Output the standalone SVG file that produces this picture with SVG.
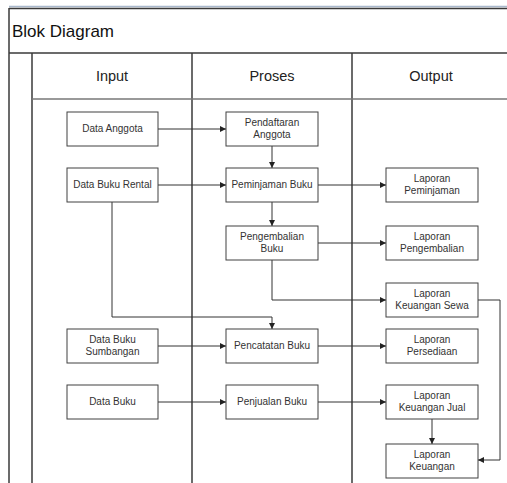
<svg xmlns="http://www.w3.org/2000/svg" width="507" height="483" viewBox="0 0 507 483">
<style>
.box{fill:#fff;stroke:#404040;stroke-width:1}
.t{font-family:"Liberation Sans",Arial,sans-serif;font-size:10px;fill:#333;text-anchor:middle}
.h{font-family:"Liberation Sans",Arial,sans-serif;font-size:14.5px;fill:#222;text-anchor:middle}
.c{fill:none;stroke:#333;stroke-width:1}
.f{stroke:#3a3a3a;stroke-width:1.5;fill:none}
</style>
<defs>
<marker id="a" markerUnits="userSpaceOnUse" markerWidth="8" markerHeight="8" refX="6" refY="3" orient="auto">
<path d="M0,0 L6,3 L0,6 Z" fill="#222"/>
</marker>
</defs>
<rect x="0" y="0" width="507" height="483" fill="#fff"/>
<g id="frame">
<line x1="9" y1="6.5" x2="507" y2="6.5" stroke="#a9b8cc" stroke-width="1.5"/>
<line class="f" x1="9" y1="8.5" x2="507" y2="8.5"/>
<line class="f" x1="9" y1="8" x2="9" y2="483"/>
<line class="f" x1="9" y1="53" x2="507" y2="53"/>
<line class="f" x1="32" y1="53" x2="32" y2="483"/>
<line class="f" x1="192" y1="53" x2="192" y2="483"/>
<line class="f" x1="352" y1="53" x2="352" y2="483"/>
<line x1="32" y1="99" x2="507" y2="99" stroke="#777" stroke-width="1.5"/>
<text x="12" y="37" font-family="'Liberation Sans',Arial,sans-serif" font-size="17" fill="#111">Blok Diagram</text>
<text class="h" x="112" y="81">Input</text>
<text class="h" x="272" y="81">Proses</text>
<text class="h" x="431" y="81">Output</text>
</g>
<g id="connectors">
<path class="c" d="M158,129 H226" marker-end="url(#a)"/>
<path class="c" d="M158,185 H226" marker-end="url(#a)"/>
<path class="c" d="M272,146 V168" marker-end="url(#a)"/>
<path class="c" d="M272,202 V226" marker-end="url(#a)"/>
<path class="c" d="M318,185 H386" marker-end="url(#a)"/>
<path class="c" d="M318,243 H386" marker-end="url(#a)"/>
<path class="c" d="M272,260 V300 H386" marker-end="url(#a)"/>
<path class="c" d="M112,202 V317 H272 V329" marker-end="url(#a)"/>
<path class="c" d="M158,346 H226" marker-end="url(#a)"/>
<path class="c" d="M318,346 H386" marker-end="url(#a)"/>
<path class="c" d="M158,402 H226" marker-end="url(#a)"/>
<path class="c" d="M318,402 H386" marker-end="url(#a)"/>
<path class="c" d="M432,419 V444" marker-end="url(#a)"/>
<path class="c" d="M478,300 H500 V460 H478" marker-end="url(#a)"/>
</g>
<g id="data-anggota"><rect class="box" x="67" y="112" width="91" height="34"/><text class="t" x="112.5" y="132">Data Anggota</text></g>
<g id="data-buku-rental"><rect class="box" x="67" y="168" width="91" height="34"/><text class="t" x="112.5" y="188">Data Buku Rental</text></g>
<g id="data-buku-sumbangan"><rect class="box" x="67" y="329" width="91" height="34"/><text class="t" x="112.5" y="342.5">Data Buku</text><text class="t" x="112.5" y="354.5">Sumbangan</text></g>
<g id="data-buku"><rect class="box" x="67" y="385" width="91" height="34"/><text class="t" x="112.5" y="405">Data Buku</text></g>
<g id="pendaftaran-anggota"><rect class="box" x="226" y="112" width="92" height="34"/><text class="t" x="272" y="125.5">Pendaftaran</text><text class="t" x="272" y="137.5">Anggota</text></g>
<g id="peminjaman-buku"><rect class="box" x="226" y="168" width="92" height="34"/><text class="t" x="272" y="188">Peminjaman Buku</text></g>
<g id="pengembalian-buku"><rect class="box" x="226" y="226" width="92" height="34"/><text class="t" x="272" y="239.5">Pengembalian</text><text class="t" x="272" y="251.5">Buku</text></g>
<g id="pencatatan-buku"><rect class="box" x="226" y="329" width="92" height="34"/><text class="t" x="272" y="349">Pencatatan Buku</text></g>
<g id="penjualan-buku"><rect class="box" x="226" y="385" width="92" height="34"/><text class="t" x="272" y="405">Penjualan Buku</text></g>
<g id="laporan-peminjaman"><rect class="box" x="386" y="168" width="92" height="34"/><text class="t" x="432" y="181.5">Laporan</text><text class="t" x="432" y="193.5">Peminjaman</text></g>
<g id="laporan-pengembalian"><rect class="box" x="386" y="226" width="92" height="34"/><text class="t" x="432" y="239.5">Laporan</text><text class="t" x="432" y="251.5">Pengembalian</text></g>
<g id="laporan-keuangan-sewa"><rect class="box" x="386" y="283" width="92" height="34"/><text class="t" x="432" y="296.5">Laporan</text><text class="t" x="432" y="308.5">Keuangan Sewa</text></g>
<g id="laporan-persediaan"><rect class="box" x="386" y="329" width="92" height="34"/><text class="t" x="432" y="342.5">Laporan</text><text class="t" x="432" y="354.5">Persediaan</text></g>
<g id="laporan-keuangan-jual"><rect class="box" x="386" y="385" width="92" height="34"/><text class="t" x="432" y="398.5">Laporan</text><text class="t" x="432" y="410.5">Keuangan Jual</text></g>
<g id="laporan-keuangan"><rect class="box" x="386" y="444" width="92" height="34"/><text class="t" x="432" y="457.5">Laporan</text><text class="t" x="432" y="469.5">Keuangan</text></g>
</svg>
